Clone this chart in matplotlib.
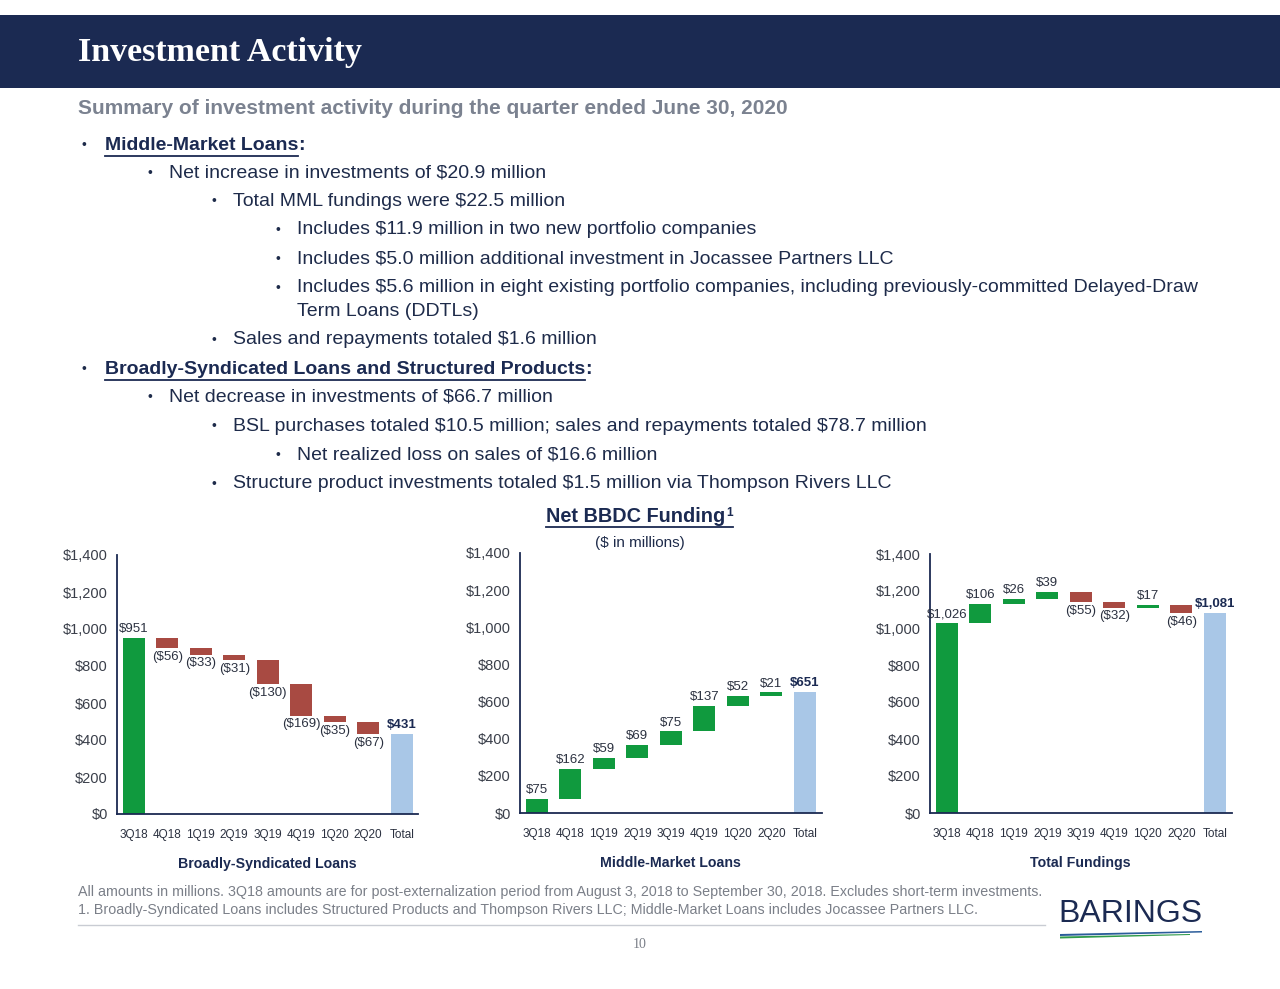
import matplotlib
matplotlib.use("Agg")
import matplotlib.pyplot as plt
import numpy as np
from matplotlib.lines import Line2D
from matplotlib.patches import Rectangle, Polygon

plt.rcParams['font.family'] = ['Liberation Sans', 'DejaVu Sans']
plt.rcParams['text.parse_math'] = False

# ---- data ----
quarters = ['3Q18', '4Q18', '1Q19', '2Q19', '3Q19', '4Q19', '1Q20', '2Q20', 'Total']

bsl_start = 951
bsl_deltas = [-56, -33, -31, -130, -169, -35, -67]
bsl_total = 431

mml_start = 75
mml_deltas = [162, 59, 69, 75, 137, 52, 21]
mml_total = 651

tot_start = 1026
tot_deltas = [106, 26, 39, -55, -32, 17, -46]
tot_total = 1081

chart_names = ['Broadly-Syndicated Loans', 'Middle-Market Loans', 'Total Fundings']

bullets = [
    (1, 'Middle-Market Loans', True),
    (2, 'Net increase in investments of $20.9 million', False),
    (3, 'Total MML fundings were $22.5 million', False),
    (4, 'Includes $11.9 million in two new portfolio companies', False),
    (4, 'Includes $5.0 million additional investment in Jocassee Partners LLC', False),
    (4, 'Includes $5.6 million in eight existing portfolio companies, including previously-committed Delayed-Draw', False),
    (0, 'Term Loans (DDTLs)', False),
    (3, 'Sales and repayments totaled $1.6 million', False),
    (1, 'Broadly-Syndicated Loans and Structured Products', True),
    (2, 'Net decrease in investments of $66.7 million', False),
    (3, 'BSL purchases totaled $10.5 million; sales and repayments totaled $78.7 million', False),
    (4, 'Net realized loss on sales of $16.6 million', False),
    (3, 'Structure product investments totaled $1.5 million via Thompson Rivers LLC', False),
]

NAVY = '#1b2a52'
GREEN = '#109a3e'
RED = '#a84a42'
BLUE = '#a9c7e7'
TEXT = '#1e2b4a'

W, H = 1280, 989
fig = plt.figure(figsize=(12.8, 9.89), dpi=100)


def fx(x):
    return x / W


def fy(y):
    return 1 - y / H


renderer = fig.canvas.get_renderer()


def hline(x0, x1, y, color, lw):
    fig.add_artist(Line2D([x0 / W, x1 / W], [y / H, y / H], color=color, lw=lw,
                          transform=fig.transFigure))


# header band
fig.add_artist(Rectangle((0, fy(88)), 1, (88 - 15) / H, transform=fig.transFigure,
                         facecolor=NAVY, edgecolor='none'))
fig.text(fx(78), fy(52), 'Investment Activity', color='white', fontsize=24.5,
         fontweight='bold', family='Liberation Serif', va='center')

fig.text(fx(78), fy(108), 'Summary of investment activity during the quarter ended June 30, 2020',
         color='#7b8290', fontsize=15, fontweight='bold', va='center')

# bullet list
FS = 14
levels = {1: (82, 105), 2: (147, 169), 3: (212, 233), 4: (275, 297)}
y_rows = [145, 173, 201, 230, 259, 288, 311, 340, 369, 397, 426, 455, 484]
for (lvl, txt, head), y in zip(bullets, y_rows):
    if lvl == 0:
        fig.text(fx(297), fy(y), txt, color=TEXT, fontsize=FS, va='center')
        continue
    bx, tx = levels[lvl]
    fig.text(fx(bx), fy(y), '•', color=TEXT, fontsize=10, va='center')
    if head:
        t = fig.text(fx(tx), fy(y), txt, color=NAVY, fontsize=FS, fontweight='bold', va='center')
        bb = t.get_window_extent(renderer)
        hline(bb.x0, bb.x1, bb.y0 - 2, NAVY, 1.3)
        fig.text(bb.x1 / W, fy(y), ':', color=NAVY, fontsize=FS, fontweight='bold', va='center')
    else:
        fig.text(fx(tx), fy(y), txt, color=TEXT, fontsize=FS, va='center')

# chart title with superscript and underline
t = fig.text(fx(636), fy(516), 'Net BBDC Funding', color=NAVY, fontsize=14.3,
             fontweight='bold', ha='center', va='center')
bb = t.get_window_extent(renderer)
s = fig.text((bb.x1 + 1) / W, (bb.y1 - 1) / H, '1', color=NAVY, fontsize=8.5,
             fontweight='bold', ha='left', va='top')
sb = s.get_window_extent(renderer)
hline(bb.x0, sb.x1, bb.y0 - 1, NAVY, 1.3)
fig.text(fx(640), fy(543), '($ in millions)', color=TEXT, fontsize=11, ha='center', va='center')


def money(v):
    return f'${v:,}' if v >= 0 else f'(${-v:,})'


def waterfall(ax, start, deltas, total, name):
    x = np.arange(len(quarters))
    cum = start + np.cumsum([0] + deltas)
    lab = dict(ha='center', fontsize=9.5, color='#2b3140', textcoords='offset points')
    ax.bar(x[0], start, width=0.66, color=GREEN)
    ax.annotate(money(start), (x[0], start), xytext=(0, 2), va='bottom', **lab)
    for i, d in enumerate(deltas):
        prev, new = cum[i], cum[i + 1]
        ax.bar(x[i + 1], abs(d), bottom=min(prev, new), width=0.66,
               color=GREEN if d >= 0 else RED)
        if d >= 0:
            ax.annotate(money(d), (x[i + 1], new), xytext=(0, 2), va='bottom', **lab)
        else:
            ax.annotate(money(d), (x[i + 1], new), xytext=(0, -2), va='top', **lab)
    ax.bar(x[-1], total, width=0.66, color=BLUE)
    ax.annotate(money(total), (x[-1], total), xytext=(0, 2), textcoords='offset points',
                ha='center', va='bottom', fontsize=9.5, fontweight='bold', color=NAVY)

    ax.set_xlim(-0.5, 8.5)
    ax.set_ylim(0, 1400)
    ax.set_yticks(np.arange(0, 1401, 200))
    ax.yaxis.set_major_formatter(lambda v, p: f'${v:,.0f}')
    ax.set_xticks(x)
    ax.set_xticklabels(quarters)
    ax.tick_params(axis='y', length=0, pad=6.5, labelsize=10.5, labelcolor='#3a3f4a')
    ax.tick_params(axis='x', length=0, pad=11, labelsize=8.5, labelcolor='#2b3140')
    for side in ['top', 'right']:
        ax.spines[side].set_visible(False)
    for side in ['left', 'bottom']:
        ax.spines[side].set_color(NAVY)
        ax.spines[side].set_linewidth(1.3)
    ax.set_xlabel(name, fontsize=10.2, fontweight='bold', color=NAVY, labelpad=11)


ax1 = fig.add_axes([fx(117), fy(814), 301.5 / W, 259 / H])
waterfall(ax1, bsl_start, bsl_deltas, bsl_total, chart_names[0])
ax2 = fig.add_axes([fx(520), fy(813), 301.5 / W, 260 / H])
waterfall(ax2, mml_start, mml_deltas, mml_total, chart_names[1])
ax3 = fig.add_axes([fx(930), fy(813), 301.5 / W, 259 / H])
waterfall(ax3, tot_start, tot_deltas, tot_total, chart_names[2])

# footnotes
fig.text(fx(78), fy(892), 'All amounts in millions. 3Q18 amounts are for post-externalization period '
         'from August 3, 2018 to September 30, 2018. Excludes short-term investments.',
         color='#7a7f88', fontsize=10.3, va='center')
fig.text(fx(78), fy(910), '1. Broadly-Syndicated Loans includes Structured Products and Thompson Rivers LLC; '
         'Middle-Market Loans includes Jocassee Partners LLC.',
         color='#7a7f88', fontsize=10.3, va='center')
fig.add_artist(Line2D([fx(78), fx(1045)], [fy(925), fy(925)], color='#c9ccd3', lw=1,
                      transform=fig.transFigure))
fig.text(fx(640), fy(944), '10', color='#7a7f88', fontsize=10, family='Liberation Serif',
         ha='center', va='center')

# logo
fig.text(fx(1130), fy(914), 'BARINGS', color=NAVY, fontsize=23,
         family=['Liberation Sans Narrow', 'Liberation Sans'], ha='center', va='center')
fig.add_artist(Polygon([(fx(1060), fy(934)), (fx(1202), fy(931)), (fx(1202), fy(932.5)),
                        (fx(1060), fy(936))], closed=True, transform=fig.transFigure,
                       facecolor='#2a5c9a', edgecolor='none'))
fig.add_artist(Polygon([(fx(1060), fy(936.5)), (fx(1190), fy(934)), (fx(1190), fy(935)),
                        (fx(1060), fy(938.5))], closed=True, transform=fig.transFigure,
                       facecolor='#2f9a4a', edgecolor='none'))

fig.savefig('out.png', dpi=100)
